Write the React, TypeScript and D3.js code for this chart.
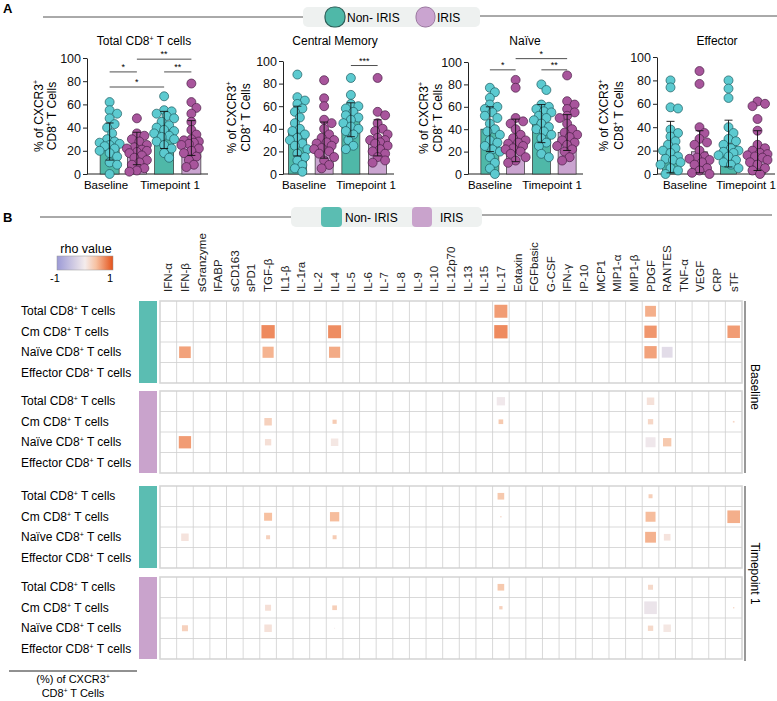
import { useEffect, useRef } from 'react';
import * as d3 from 'd3';

const W = 777;
const H = 701;
const FONT = 'Liberation Sans, Arial, Helvetica, sans-serif';

const TEAL_BAR = '#4fb8a8';
const PURPLE_BAR = '#caa4d0';
const TEAL_DOT = '#5ccad0';
const PURPLE_DOT = '#a8559c';

// ---------- Panel A data ----------
const conditions = ['Baseline Non-IRIS', 'Baseline IRIS', 'Timepoint 1 Non-IRIS', 'Timepoint 1 IRIS'];
const timepoints = ['Baseline', 'Timepoint 1'];
const panelTitles = ['Total CD8^+ T cells', 'Central Memory', 'Naïve', 'Effector'];
const yTicks = [0, 20, 40, 60, 80, 100];

const totalPoints = [
	[62, 55, 52, 48, 43, 40, 35, 30, 28, 27, 26, 25, 24, 22, 20, 18, 15, 10, 8, 0],
	[48, 35, 33, 30, 28, 25, 23, 22, 21, 20, 19, 18, 16, 14, 12, 10, 8, 5, 3, 2],
	[67, 55, 54, 52, 50, 48, 45, 42, 40, 38, 37, 35, 33, 32, 30, 28, 25, 22, 18, 14],
	[78, 62, 57, 52, 45, 38, 34, 30, 29, 28, 27, 26, 25, 22, 20, 18, 15, 12, 8, 6],
];
const totalMean = [28, 22, 38, 31];
const totalSd = [16, 14, 16, 15];

const cmPoints = [
	[88, 68, 65, 62, 58, 55, 50, 45, 40, 38, 35, 32, 30, 27, 25, 22, 18, 15, 12, 8, 5, 2],
	[83, 67, 60, 48, 45, 40, 35, 32, 30, 28, 27, 25, 23, 22, 20, 18, 15, 12, 8, 5],
	[85, 70, 62, 60, 58, 55, 52, 50, 48, 45, 42, 40, 38, 35, 30, 25, 22],
	[85, 55, 52, 45, 40, 38, 35, 32, 30, 30, 28, 27, 25, 22, 20, 18, 15, 12, 10],
];
const cmMean = [38, 30, 48, 32];
const cmSd = [22, 16, 15, 16];

const naivePoints = [
	[77, 73, 68, 62, 60, 58, 55, 52, 50, 45, 40, 38, 35, 30, 28, 25, 22, 20, 15, 10, 5, 0],
	[84, 77, 50, 47, 45, 40, 35, 32, 30, 28, 27, 25, 23, 22, 20, 18, 15, 12, 10],
	[80, 75, 62, 60, 58, 56, 55, 52, 50, 48, 45, 42, 40, 38, 35, 32, 28, 25, 18, 15],
	[88, 65, 62, 58, 55, 52, 50, 45, 40, 37, 35, 33, 30, 28, 26, 25, 22, 20, 15, 12],
];
const naiveMean = [40, 30, 45, 37];
const naiveSd = [20, 19, 17, 16];

const effectorPoints = [
	[80, 74, 57, 56, 38, 35, 32, 28, 25, 22, 20, 18, 15, 13, 12, 10, 8, 5, 3, 0],
	[88, 77, 40, 35, 30, 27, 25, 20, 15, 14, 13, 12, 10, 8, 5, 3, 1, 0],
	[80, 73, 65, 40, 35, 30, 28, 25, 22, 20, 19, 18, 16, 15, 12, 10, 8, 5],
	[62, 60, 58, 47, 37, 25, 22, 20, 18, 17, 16, 15, 14, 12, 10, 8, 5, 3, 0],
];
const effectorMean = [23, 19, 26, 20];
const effectorSd = [22, 18, 20, 17];

// [from, to, label, bracket height]
const totalSig: [number, number, string, number][] = [
	[0, 1, '*', 88],
	[1, 3, '**', 99],
	[2, 3, '**', 88],
	[0, 2, '*', 75],
];
const cmSig: [number, number, string, number][] = [[2, 3, '***', 96]];
const naiveSig: [number, number, string, number][] = [
	[0, 1, '*', 93],
	[1, 3, '*', 103],
	[2, 3, '**', 93],
];
const effectorSig: [number, number, string, number][] = [];

// ---------- Panel B data ----------
const cytokines = [
	'IFN-α', 'IFN-β', 'sGranzyme', 'IFABP', 'sCD163', 'sPD1', 'TGF-β', 'IL1-β', 'IL-1ra', 'IL-2', 'IL-4',
	'IL-5', 'IL-6', 'IL-7', 'IL-8', 'IL-9', 'IL-10', 'IL-12p70', 'IL-13', 'IL-15', 'IL-17', 'Eotaxin',
	'FGFbasic', 'G-CSF', 'IFN-γ', 'IP-10', 'MCP1', 'MIP1-α', 'MIP1-β', 'PDGF', 'RANTES', 'TNF-α', 'VEGF',
	'CRP', 'sTF',
];
const cellTypes = ['Total CD8^+ T cells', 'Cm CD8^+ T cells', 'Naïve CD8^+ T cells', 'Effector CD8^+  T cells'];
const blockGroups = ['Non-IRIS', 'IRIS', 'Non-IRIS', 'IRIS'];

// [cell type index, cytokine, rho, significance weight]
type Cell = [number, string, number, number];
const baselineNonIris: Cell[] = [
	[0, 'IL-17', 0.6, 0.78], [0, 'PDGF', 0.5, 0.65],
	[1, 'TGF-β', 0.7, 0.8], [1, 'IL-4', 0.68, 0.78], [1, 'IL-17', 0.7, 0.8], [1, 'PDGF', 0.63, 0.74], [1, 'sTF', 0.6, 0.75],
	[2, 'IFN-β', 0.57, 0.7], [2, 'TGF-β', 0.47, 0.67], [2, 'IL-4', 0.52, 0.67], [2, 'PDGF', 0.57, 0.74], [2, 'RANTES', -0.2, 0.65],
];
const baselineIris: Cell[] = [
	[0, 'IL-17', -0.05, 0.5], [0, 'PDGF', 0.1, 0.45],
	[1, 'TGF-β', 0.25, 0.45], [1, 'IL-4', 0.3, 0.25], [1, 'IL-17', 0.32, 0.28], [1, 'PDGF', 0.2, 0.32], [1, 'sTF', 0.2, 0.1],
	[2, 'IFN-β', 0.6, 0.74], [2, 'TGF-β', 0.12, 0.38], [2, 'IL-4', 0.05, 0.45], [2, 'PDGF', -0.06, 0.6], [2, 'RANTES', 0.33, 0.5],
];
const timepointNonIris: Cell[] = [
	[0, 'IL-17', 0.33, 0.4], [0, 'PDGF', 0.27, 0.24],
	[1, 'TGF-β', 0.4, 0.48], [1, 'IL-4', 0.42, 0.56], [1, 'IL-17', 0.2, 0.08], [1, 'PDGF', 0.42, 0.6], [1, 'sTF', 0.5, 0.76],
	[2, 'IFN-β', 0.08, 0.45], [2, 'TGF-β', 0.25, 0.24], [2, 'IL-4', 0.3, 0.24], [2, 'PDGF', 0.48, 0.65], [2, 'RANTES', 0.08, 0.4],
];
const timepointIris: Cell[] = [
	[0, 'IL-17', 0.33, 0.4], [0, 'PDGF', 0.18, 0.3],
	[1, 'TGF-β', 0.12, 0.36], [1, 'IL-4', 0.27, 0.28], [1, 'IL-17', 0.25, 0.2], [1, 'PDGF', -0.1, 0.76], [1, 'sTF', 0.2, 0.08],
	[2, 'IFN-β', 0.25, 0.36], [2, 'TGF-β', 0.1, 0.45], [2, 'IL-4', 0.0, 0.06], [2, 'PDGF', 0.18, 0.32], [2, 'RANTES', 0.05, 0.45],
];

type G = d3.Selection<SVGGElement, unknown, null, undefined>;
type T = d3.Selection<SVGTextElement, unknown, null, undefined>;

// text with "^x" superscripts
function rich(text: T, s: string, sup: number) {
	const parts = s.split('^');
	text.append('tspan').text(parts[0]);
	for (let i = 1; i < parts.length; i++) {
		text.append('tspan').attr('dy', -sup * 0.6).attr('font-size', sup).text(parts[i][0]);
		text.append('tspan').attr('dy', sup * 0.6).text(parts[i].slice(1));
	}
}

// simple beeswarm offsets
function swarm(values: number[], y: (v: number) => number, minDist: number, maxOff: number) {
	const placed: { x: number; y: number }[] = [];
	const offsets = [0, 1, -1, 2, -2, 3, -3, 4, -4].map((k) => (k * maxOff) / 4);
	[...values]
		.sort((a, b) => b - a)
		.forEach((v) => {
			const py = y(v);
			let best = 0;
			let bestD = -1;
			for (const o of offsets) {
				const d = d3.min(placed, (p) => Math.hypot(p.x - o, p.y - py)) ?? Infinity;
				if (d >= minDist) {
					best = o;
					break;
				}
				if (d > bestD) {
					bestD = d;
					best = o;
				}
			}
			placed.push({ x: best, y: py });
		});
	return placed;
}

const charts = [
	{ points: totalPoints, mean: totalMean, sd: totalSd, sig: totalSig, axisX: 87, range: [96, 205], yTop: 58, bw: 19, titleX: 144, yLab: [38, 51], xLab: [106, 170] },
	{ points: cmPoints, mean: cmMean, sd: cmSd, sig: cmSig, axisX: 283, range: [284, 391], yTop: 61, bw: 18, titleX: 335, yLab: [231, 245], xLab: [304, 366] },
	{ points: naivePoints, mean: naiveMean, sd: naiveSd, sig: naiveSig, axisX: 468, range: [477, 580], yTop: 62, bw: 18, titleX: 525, yLab: [423, 437], xLab: [490, 552] },
	{ points: effectorPoints, mean: effectorMean, sd: effectorSd, sig: effectorSig, axisX: 657, range: [656, 772], yTop: 57, bw: 16, titleX: 717, yLab: [603, 618], xLab: [685, 746] },
];

export default function App() {
	const svgRef = useRef<SVGSVGElement>(null);

	useEffect(() => {
		if (!svgRef.current) return;
		const root = d3.select(svgRef.current);
		root.selectAll('*').remove();
		const svg = root.append('g').attr('font-family', FONT) as unknown as G;

		// ---------- Panel A ----------
		svg.append('text').attr('x', 3).attr('y', 13).attr('font-size', 13).attr('font-weight', 'bold').text('A');
		svg.append('line').attr('x1', 43).attr('x2', 303).attr('y1', 17).attr('y2', 17).attr('stroke', '#555');
		svg.append('line').attr('x1', 480).attr('x2', 777).attr('y1', 16).attr('y2', 16).attr('stroke', '#555');
		svg.append('rect').attr('x', 303).attr('y', 7).attr('width', 177).attr('height', 20).attr('rx', 5).attr('fill', '#eef1f0');
		svg.append('rect').attr('x', 325).attr('y', 7).attr('width', 20).attr('height', 20).attr('rx', 9)
			.attr('fill', TEAL_BAR).attr('stroke', '#2c5e58').attr('stroke-width', 1.2);
		svg.append('text').attr('x', 347).attr('y', 21.5).attr('font-size', 12).text('Non- IRIS');
		svg.append('rect').attr('x', 416).attr('y', 7).attr('width', 19).attr('height', 20).attr('rx', 9)
			.attr('fill', PURPLE_BAR).attr('stroke', '#9b78a0').attr('stroke-width', 1);
		svg.append('text').attr('x', 437).attr('y', 21.5).attr('font-size', 12).text('IRIS');

		charts.forEach((c, ci) => {
			const g = svg.append('g');
			const y = d3.scaleLinear().domain([0, 100]).range([174, c.yTop]);
			const x = d3.scalePoint<string>().domain(conditions).range(c.range as [number, number]).padding(0.5);
			const xc = (i: number) => x(conditions[i]) ?? 0;

			// title
			rich(g.append('text').attr('x', c.titleX).attr('y', 45).attr('font-size', 12).attr('text-anchor', 'middle') as T, panelTitles[ci], 7);

			// y axis
			const ax = g.append('g').attr('transform', `translate(${c.axisX},0)`)
				.call(d3.axisLeft(y).tickValues(yTicks).tickSize(4).tickSizeOuter(0).tickPadding(2));
			ax.select('.domain').attr('stroke', '#222');
			ax.selectAll('.tick line').attr('stroke', '#222');
			ax.selectAll('.tick text').attr('font-size', 12.5).attr('font-family', FONT).attr('fill', '#111');

			// x axis baseline
			g.append('line').attr('x1', c.axisX).attr('x2', c.range[1] + 3).attr('y1', 174).attr('y2', 174).attr('stroke', '#222');
			timepoints.forEach((t, ti) => {
				g.append('text').attr('x', c.xLab[ti]).attr('y', 189)
					.attr('font-size', 11.5).attr('text-anchor', 'middle').text(t);
			});

			// y title
			const yMid = (174 + c.yTop) / 2;
			['% of CXCR3^+', 'CD8^+ T Cells'].forEach((s, li) => {
				const tx = g.append('text').attr('transform', `translate(${c.yLab[li] + 4.5},${yMid}) rotate(-90)`)
					.attr('font-size', 12).attr('text-anchor', 'middle') as T;
				rich(tx, s, 7);
			});

			// bars
			conditions.forEach((_, i) => {
				g.append('rect').attr('x', xc(i) - c.bw / 2).attr('y', y(c.mean[i])).attr('width', c.bw)
					.attr('height', 174 - y(c.mean[i])).attr('fill', i % 2 === 0 ? TEAL_BAR : PURPLE_BAR)
					.attr('stroke', '#333').attr('stroke-width', 0.7);
			});

			// dots
			c.points.forEach((vals, i) => {
				const pos = swarm(vals, y, 6.5, 10);
				g.selectAll(null).data(pos).enter().append('circle')
					.attr('cx', (p) => xc(i) + p.x).attr('cy', (p) => p.y).attr('r', 4.5)
					.attr('fill', i % 2 === 0 ? TEAL_DOT : PURPLE_DOT)
					.attr('stroke', i % 2 === 0 ? '#1f5c60' : '#4b1f46').attr('stroke-width', 0.7);
			});

			// error bars (mean ± SD)
			conditions.forEach((_, i) => {
				const top = y(c.mean[i] + c.sd[i]);
				const bot = y(Math.max(0, c.mean[i] - c.sd[i]));
				g.append('line').attr('x1', xc(i)).attr('x2', xc(i)).attr('y1', top).attr('y2', bot).attr('stroke', '#111').attr('stroke-width', 0.9);
				[top, bot].forEach((yy) => {
					g.append('line').attr('x1', xc(i) - 4).attr('x2', xc(i) + 4).attr('y1', yy).attr('y2', yy).attr('stroke', '#111').attr('stroke-width', 0.9);
				});
			});

			// significance brackets
			c.sig.forEach(([a, b, lab, lvl]) => {
				g.append('line').attr('x1', xc(a)).attr('x2', xc(b)).attr('y1', y(lvl)).attr('y2', y(lvl)).attr('stroke', '#222').attr('stroke-width', 0.8);
				g.append('text').attr('x', (xc(a) + xc(b)) / 2).attr('y', y(lvl) - 2).attr('font-size', 9)
					.attr('text-anchor', 'middle').text(lab);
			});
		});

		// ---------- Panel B ----------
		svg.append('text').attr('x', 3).attr('y', 222).attr('font-size', 13).attr('font-weight', 'bold').text('B');
		svg.append('line').attr('x1', 40).attr('x2', 291).attr('y1', 217).attr('y2', 217).attr('stroke', '#555');
		svg.append('line').attr('x1', 482).attr('x2', 772).attr('y1', 215).attr('y2', 215).attr('stroke', '#555');
		svg.append('rect').attr('x', 291).attr('y', 207).attr('width', 191).attr('height', 20).attr('rx', 5).attr('fill', '#eef1f0');
		svg.append('rect').attr('x', 321).attr('y', 207).attr('width', 21).attr('height', 20).attr('rx', 4).attr('fill', '#5bbdb2');
		svg.append('text').attr('x', 345).attr('y', 221.5).attr('font-size', 12).text('Non- IRIS');
		svg.append('rect').attr('x', 412).attr('y', 207).attr('width', 20).attr('height', 20).attr('rx', 4).attr('fill', '#c9a3cc');
		svg.append('text').attr('x', 440).attr('y', 221.5).attr('font-size', 12).text('IRIS');

		// colour scale
		const rhoDomain = [-1, 0, 0.4, 1];
		const rhoRange = ['#9c9ad6', '#f4ecec', '#f7c1a1', '#e4521a'];
		const color = d3.scaleLinear<string>().domain(rhoDomain).range(rhoRange).interpolate(d3.interpolateRgb);
		const defs = root.append('defs');
		const grad = defs.append('linearGradient').attr('id', 'rhoGrad').attr('x1', '0%').attr('x2', '100%');
		rhoDomain.forEach((d, i) => {
			grad.append('stop').attr('offset', `${((d + 1) / 2) * 100}%`).attr('stop-color', rhoRange[i]);
		});
		svg.append('text').attr('x', 86).attr('y', 253).attr('font-size', 12.5).attr('text-anchor', 'middle').text('rho value');
		svg.append('rect').attr('x', 57).attr('y', 256).attr('width', 56).attr('height', 14).attr('fill', 'url(#rhoGrad)')
			.attr('stroke', '#999').attr('stroke-width', 0.5);
		svg.append('text').attr('x', 55).attr('y', 282).attr('font-size', 11).attr('text-anchor', 'middle').text('-1');
		svg.append('text').attr('x', 110).attr('y', 282).attr('font-size', 11).attr('text-anchor', 'middle').text('1');

		// heatmap grid
		const hx = d3.scaleBand<string>().domain(cytokines).range([160, 742]);
		const cw = hx.bandwidth();
		const blockTops = [301, 391, 486, 577];
		const blockH = 82;
		const rowH = blockH / 4;
		const blocks = [baselineNonIris, baselineIris, timepointNonIris, timepointIris];

		cytokines.forEach((cy) => {
			const cx = (hx(cy) ?? 0) + cw / 2;
			svg.append('text').attr('transform', `translate(${cx + 4},292) rotate(-90)`)
				.attr('font-size', 11.5).attr('text-anchor', 'start').attr('fill', '#222').text(cy);
		});

		blocks.forEach((cells, bi) => {
			const top = blockTops[bi];
			const g = svg.append('g');
			// group colour strip
			g.append('rect').attr('x', 139).attr('y', top).attr('width', 18).attr('height', blockH)
				.attr('fill', blockGroups[bi] === 'IRIS' ? '#c9a3cc' : '#5bbdb2');
			// row labels
			cellTypes.forEach((ct, ri) => {
				rich(g.append('text').attr('x', 21).attr('y', top + rowH * (ri + 0.5) + 4).attr('font-size', 12) as T, ct, 7);
			});
			// grid
			g.append('rect').attr('x', 160).attr('y', top).attr('width', 582).attr('height', blockH)
				.attr('fill', '#fff').attr('stroke', '#d6d6d6').attr('stroke-width', 1.6);
			cytokines.slice(1).forEach((cy) => {
				const xx = hx(cy) ?? 0;
				g.append('line').attr('x1', xx).attr('x2', xx).attr('y1', top).attr('y2', top + blockH).attr('stroke', '#cfcfcf').attr('stroke-width', 0.8);
			});
			[1, 2, 3].forEach((r) => {
				g.append('line').attr('x1', 160).attr('x2', 742).attr('y1', top + r * rowH).attr('y2', top + r * rowH)
					.attr('stroke', '#cfcfcf').attr('stroke-width', 0.8);
			});
			// cells
			cells.forEach(([ri, cy, rho, w]) => {
				const s = w * cw;
				const cx = (hx(cy) ?? 0) + cw / 2;
				const cyy = top + rowH * (ri + 0.5);
				g.append('rect').attr('x', cx - s / 2).attr('y', cyy - s / 2).attr('width', s).attr('height', s)
					.attr('fill', color(rho));
			});
		});

		// right brackets
		[
			{ label: 'Baseline', y0: 301, y1: 473 },
			{ label: 'Timepoint 1', y0: 486, y1: 661 },
		].forEach((b) => {
			svg.append('line').attr('x1', 745).attr('x2', 745).attr('y1', b.y0).attr('y2', b.y1).attr('stroke', '#333');
			svg.append('text').attr('transform', `translate(751,${(b.y0 + b.y1) / 2}) rotate(90)`)
				.attr('font-size', 12).attr('text-anchor', 'middle').text(b.label);
		});

		// bottom-left note
		svg.append('line').attr('x1', 9).attr('x2', 137).attr('y1', 671).attr('y2', 671).attr('stroke', '#222');
		rich(svg.append('text').attr('x', 73).attr('y', 683).attr('font-size', 11).attr('text-anchor', 'middle') as T, '(%) of CXCR3^+', 6.5);
		rich(svg.append('text').attr('x', 73).attr('y', 697).attr('font-size', 11).attr('text-anchor', 'middle') as T, 'CD8^+ T Cells', 6.5);
	}, []);

	return (
		<svg
			ref={svgRef}
			width={W}
			height={H}
			style={{ position: 'absolute', left: 0, top: 0, background: '#fff' }}
		></svg>
	);
}
